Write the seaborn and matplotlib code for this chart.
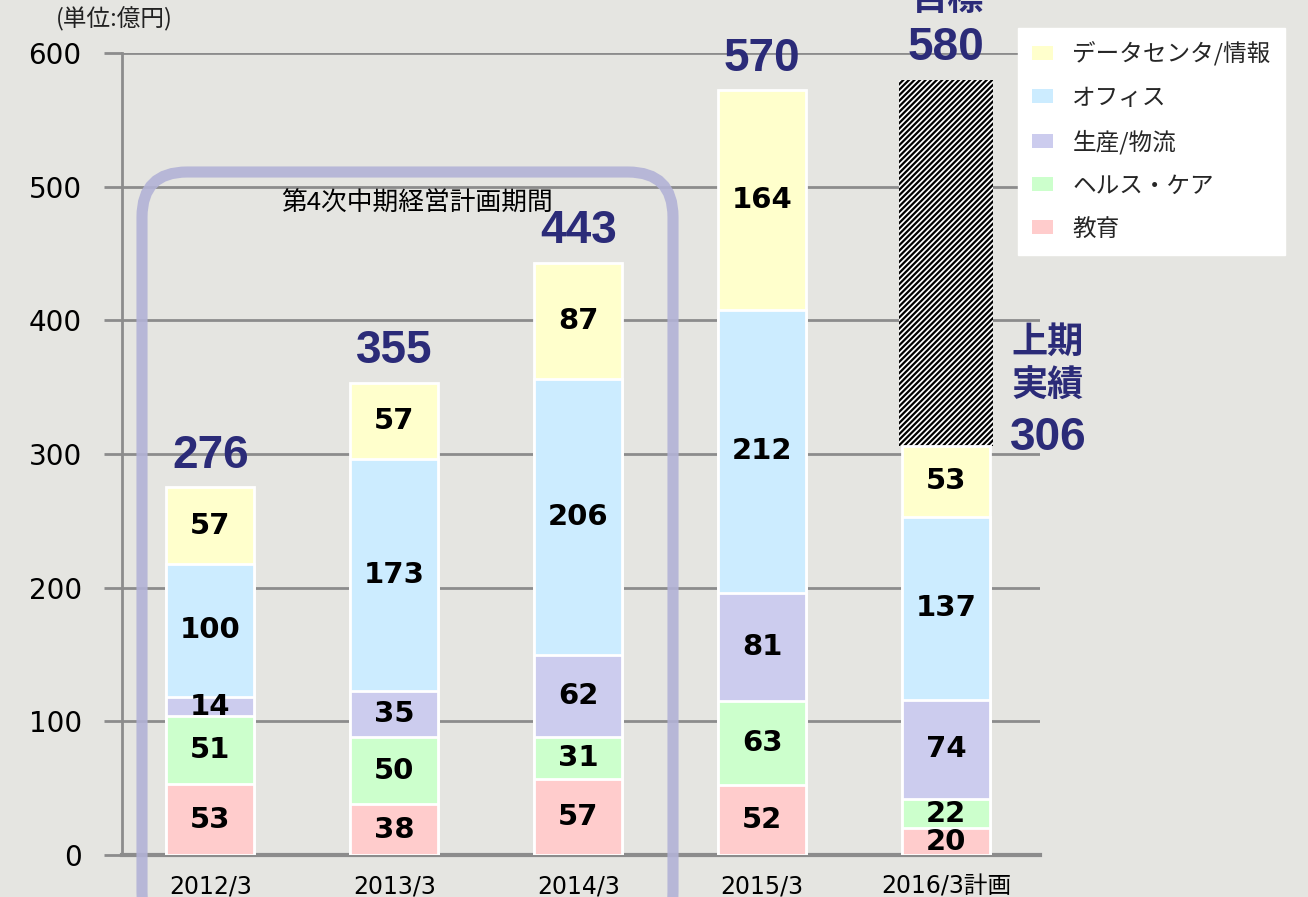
import matplotlib.pyplot as plt
import matplotlib.patches as patches
import matplotlib.transforms as mtransforms
import seaborn as sns
import numpy as np
import pandas as pd


years = ['2012/3', '2013/3', '2014/3', '2015/3', '2016/3計画']
segments = ['教育', 'ヘルス・ケア', '生産/物流', 'オフィス', 'データセンタ/情報']   # bottom -> top
edu = [53, 38, 57, 52, 20]
health = [51, 50, 31, 63, 22]
factory = [14, 35, 62, 81, 74]
office = [100, 173, 206, 212, 137]
datacenter = [57, 57, 87, 164, 53]
totals = ['276', '355', '443', '570', '580']
target = 580
first_half = 306

colors = ['#FFCCCC', '#CCFFCC', '#CCCCEE', '#CCECFF', '#FFFFCC']
navy = '#2B2B78'
grey = '#8C8C8C'
cjk = ['Noto Sans CJK JP', 'DejaVu Sans']

sns.set_theme(style='white')
plt.rcParams['font.family'] = ['DejaVu Sans', 'Noto Sans CJK JP']
plt.rcParams['hatch.linewidth'] = 1.6
plt.rcParams['hatch.color'] = 'black'

W, H = 1308, 897
fig = plt.figure(figsize=(W / 100, H / 100), dpi=100, facecolor='#E5E5E1')
ax = fig.add_axes([122 / W, 42 / H, (1040 - 122) / W, (855 - 53) / H])
ax.set_facecolor('none')

df = pd.DataFrame({'year': years, '教育': edu, 'ヘルス・ケア': health,
                   '生産/物流': factory, 'オフィス': office,
                   'データセンタ/情報': datacenter})
stack = df[segments].cumsum(axis=1)

# target part of the plan bar (hatched)
ax.bar(4, target - first_half, bottom=first_half, width=0.51, facecolor='white',
       edgecolor='black', hatch='//////', linewidth=0, zorder=2)

# stacked bars: draw cumulative tops first, lower layers on top
for seg, col in zip(segments[::-1], colors[::-1]):
    sns.barplot(x=df['year'], y=stack[seg], color=col, width=0.48,
                edgecolor='white', linewidth=2, saturation=1, ax=ax, zorder=3)

# value labels inside segments
for i in range(len(years)):
    base = 0
    for seg in segments:
        v = df[seg][i]
        ax.text(i, base + v / 2, str(v), ha='center', va='center',
                fontsize=21, fontweight='bold', color='black', zorder=5)
        base += v

# totals above bars
tops = list(stack[segments[-1]])
tops[4] = target
for i, t in enumerate(totals):
    ax.annotate(t, (i, tops[i]), xytext=(0, 7), textcoords='offset points',
                ha='center', va='bottom', fontsize=33, fontweight='bold',
                color=navy, family=['Liberation Sans', 'DejaVu Sans'], zorder=6)

ax.set_xlim(-0.48, 4.51)
ax.set_ylim(0, 600)
ax.set_yticks(np.arange(0, 601, 100))
ax.set_xticks(range(len(years)), years)
ax.set_xlabel('')
ax.set_ylabel('')
ax.grid(axis='y', color=grey, linewidth=2)
ax.grid(axis='x', visible=False)
ax.set_axisbelow(True)
for s in ['top', 'right']:
    ax.spines[s].set_visible(False)
ax.spines['left'].set_color(grey)
ax.spines['left'].set_linewidth(2)
ax.spines['bottom'].set_color(grey)
ax.spines['bottom'].set_linewidth(3)
ax.tick_params(axis='y', length=13, width=2, color=grey, pad=16,
               labelsize=20, labelcolor='black', left=True)
ax.tick_params(axis='x', length=0, pad=14, labelsize=17, labelcolor='black')

# period frame
frame = patches.FancyBboxPatch((142, -40), 673 - 142, (H - 172) + 40,
                               boxstyle='round,pad=0,rounding_size=45',
                               transform=mtransforms.IdentityTransform(),
                               facecolor='none', edgecolor='#B2B2D6',
                               linewidth=8, alpha=0.9)
fig.patches.append(frame)
fig.text(417 / W, 1 - 204 / H, '第4次中期経営計画期間', ha='center', va='center',
         fontsize=18.5, family=cjk, color='black')

# annotations
fig.text(114 / W, 1 - 19 / H, '(単位:億円)', ha='center', va='center',
         fontsize=17, family=cjk, color='#222222')
fig.text(948 / W, 1 - 10 / H, '目標', ha='center', va='baseline',
         fontsize=26, fontweight='bold', family=cjk, color=navy)
fig.text(1048 / W, 1 - 342 / H, '上期', ha='center', va='center',
         fontsize=26, fontweight='bold', family=cjk, color=navy)
fig.text(1048 / W, 1 - 386 / H, '実績', ha='center', va='center',
         fontsize=26, fontweight='bold', family=cjk, color=navy)
fig.text(1048 / W, 1 - 438 / H, str(first_half), ha='center', va='center',
         fontsize=33, fontweight='bold', family=['Liberation Sans', 'DejaVu Sans'],
         color=navy)

# legend, top segment first
handles = [patches.Patch(facecolor=c, edgecolor='none') for c in colors[::-1]]
leg = fig.legend(handles, segments[::-1], loc='upper left',
                 bbox_to_anchor=(1018 / W, 1 - 28 / H), frameon=True,
                 fancybox=False, framealpha=1, facecolor='white',
                 edgecolor='white', prop={'family': cjk, 'size': 17},
                 handlelength=0.9, handleheight=0.55, labelspacing=0.85,
                 borderpad=0.6, handletextpad=0.8, borderaxespad=0)

fig.savefig('out.png', dpi=100, facecolor=fig.get_facecolor())
